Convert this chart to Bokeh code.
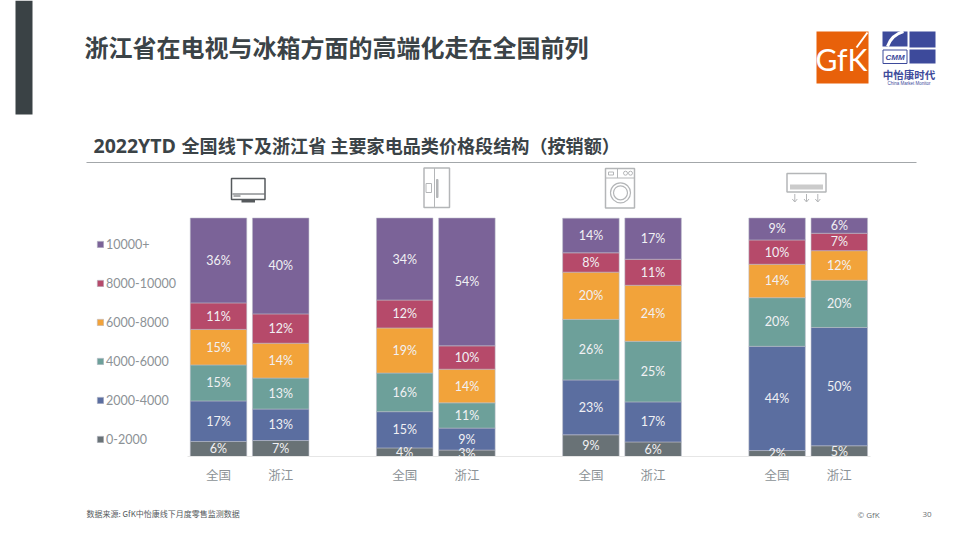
from bokeh.plotting import figure
from bokeh.models import (ColumnDataSource, Range1d, LinearAxis, FixedTicker, Legend, LegendItem)
from bokeh.core.properties import value
from bokeh.embed import file_html
from bokeh.resources import INLINE

# ---------- data ----------
groups = ["电视", "冰箱", "洗衣机", "空调"]
regions = ["全国", "浙江"]
tiers = ["0-2000", "2000-4000", "4000-6000", "6000-8000", "8000-10000", "10000+"]
# each list: TV 全国/浙江, fridge 全国/浙江, washer 全国/浙江, AC 全国/浙江
share_0_2000 = [6.3, 6.7, 3.6, 2.7, 9.1, 6.1, 2.5, 4.5]
share_2000_4000 = [17.0, 13.2, 15.2, 9.2, 23.0, 16.8, 43.7, 49.6]
share_4000_6000 = [15.1, 13.0, 16.2, 10.6, 25.4, 25.4, 20.4, 19.8]
share_6000_8000 = [14.9, 14.6, 18.9, 14.1, 19.8, 23.5, 14.0, 12.4]
share_8000_10000 = [11.1, 12.3, 11.7, 9.8, 8.1, 10.9, 10.2, 7.3]
share_10000_up = [35.6, 40.2, 34.4, 53.6, 14.5, 17.3, 9.2, 6.4]
label_0_2000 = [6, 7, 4, 3, 9, 6, 2, 5]
label_2000_4000 = [17, 13, 15, 9, 23, 17, 44, 50]
label_4000_6000 = [15, 13, 16, 11, 26, 25, 20, 20]
label_6000_8000 = [15, 14, 19, 14, 20, 24, 14, 12]
label_8000_10000 = [11, 12, 12, 10, 8, 11, 10, 7]
label_10000_up = [36, 40, 34, 54, 14, 17, 9, 6]

title_text = "浙江省在电视与冰箱方面的高端化走在全国前列"
subtitle_latin = "2022YTD"
subtitle_cjk = "全国线下及浙江省 主要家电品类价格段结构（按销额）"
source_text = "数据来源: GfK中怡康线下月度零售监测数据"

# ---------- styling / layout ----------
colors = ["#697276", "#5B6EA0", "#6DA09A", "#F2A33A", "#B64A6A", "#7B6398"]
shares = [share_0_2000, share_2000_4000, share_4000_6000, share_6000_8000, share_8000_10000, share_10000_up]
labels = [label_0_2000, label_2000_4000, label_4000_6000, label_6000_8000, label_8000_10000, label_10000_up]
W, H = 952, 532
BASE_PX, TOP_PX = 456.0, 217.5
PX_PER_PCT = (BASE_PX - TOP_PX) / 100
FIRST_X, PITCH, INNER, BAR_W = 218.0, 186.2, 62.2, 56.5
xs = [FIRST_X + g * PITCH + r * INNER for g in range(len(groups)) for r in range(len(regions))]

p = figure(width=W, height=H, output_backend="svg", toolbar_location=None,
           x_range=Range1d(0, W),
           y_range=Range1d((BASE_PX - H) / PX_PER_PCT, BASE_PX / PX_PER_PCT),
           min_border=0, outline_line_color=None, background_fill_color="white",
           x_axis_type=None, y_axis_type=None)
p.grid.visible = False
p.extra_y_ranges["px"] = Range1d(H, 0)

# ---------- stacked bars ----------
data = {"x": xs}
for t, s in zip(tiers, shares):
    data[t] = s
src = ColumnDataSource(data)
rs = p.vbar_stack(tiers, x="x", width=BAR_W, source=src, color=colors,
                  line_color="#b9bcc8", line_width=1, line_alpha=0.55)

# segment labels
lx, ly, lt = [], [], []
for i, x in enumerate(xs):
    b = 0
    for s, l in zip(shares, labels):
        lx.append(x); ly.append(b + s[i] / 2); lt.append(f"{l[i]}%")
        b += s[i]
p.text(lx, ly, text=lt, text_font=value("Lato"), text_font_size="12.5px", text_color="#f1f1f4",
       text_align="center", text_baseline="middle")
# labels of thin segments are cut off at the baseline, as in the reference
p.quad(left=[xs[0] - 40], right=[xs[-1] + 40], top=[0], bottom=[-5], fill_color="white", line_color=None)

# ---------- category axis ----------
ax = LinearAxis(ticker=FixedTicker(ticks=xs),
                major_label_overrides={x: regions[i % 2] for i, x in enumerate(xs)},
                fixed_location=0, bounds=(187, 870))
ax.axis_line_color = "#e6e6e6"
ax.axis_line_width = 1
ax.major_tick_line_color = None
ax.minor_tick_line_color = None
ax.major_label_standoff = 2
ax.major_label_text_font = "Noto Sans CJK SC"
ax.major_label_text_font_size = "12.5px"
ax.major_label_text_color = "#8c9296"
p.add_layout(ax, "below")

# ---------- legend ----------
items = [LegendItem(label=t, renderers=[r]) for t, r in zip(tiers, rs)][::-1]
leg = Legend(items=items, location=(96, 85), orientation="vertical", padding=0, margin=0,
             spacing=23, label_height=16, glyph_width=8, glyph_height=8, label_standoff=2,
             background_fill_alpha=0, border_line_color=None,
             label_text_font="Lato", label_text_font_size="12.5px", label_text_color="#8c9296")
p.add_layout(leg, "center")

# ---------- helpers in page pixels ----------
R = "px"
def box(x0, x1, y0, y1, fill=None, line=None, lw=1):
    p.quad(left=[x0], right=[x1], top=[y0], bottom=[y1], y_range_name=R,
           fill_color=fill, line_color=line, line_width=lw, fill_alpha=1 if fill else 0)
def seg(x, y, color, lw=1):
    p.line(x, y, y_range_name=R, line_color=color, line_width=lw)
def txt(x, y, s, font, size, color, style="normal", align="left"):
    p.text([x], [y], text=[s], y_range_name=R, text_font=value(font), text_font_size=size,
           text_color=color, text_font_style=style, text_align=align, text_baseline="middle")

# page furniture
box(15, 32, 0, 114, fill="#3A4245")
txt(84, 46, title_text, "Noto Sans CJK SC", "24px", "#3B4347", "bold")
txt(93, 145, subtitle_latin, "Open Sans", "19.5px", "#3B4347", "bold")
txt(181, 144, subtitle_cjk, "Noto Sans CJK SC", "18.1px", "#3B4347", "bold")
seg([86, 916], [162, 162], "#A3A7AA", 1)
txt(86, 513, source_text, "Noto Sans CJK SC", "8px", "#555B5E")
txt(857, 514, "© GfK", "Open Sans", "8px", "#6A7074")
txt(922, 514, "30", "Open Sans", "8px", "#6A7074")

# GfK logo
box(816, 868, 31, 83, fill="#E8610A")
txt(841, 58, "GfK", "Lato", "30px", "#FFFFFF", align="center")
seg([867, 856], [32, 47], "#FFFFFF", 2)
# CMM logo
NAVY = "#3D4A9B"
box(882, 907, 31, 46, fill=NAVY)
box(909, 935, 31, 47, fill=NAVY)
box(909, 935, 49, 63, fill=NAVY)
box(882.5, 906.5, 49.5, 63, line=NAVY)
p.bezier([887], [46], [903], [31], [890], [37], [896], [33], y_range_name=R, line_color="#FFFFFF", line_width=3)
txt(894.5, 57, "CMM", "Liberation Sans", "8px", NAVY, "bold italic", "center")
txt(908.5, 74, "中怡康时代", "Noto Sans CJK SC", "10.5px", NAVY, "bold", "center")
txt(908.5, 83, "China Market Monitor", "Liberation Sans", "4.5px", NAVY, "normal", "center")

# TV icon
DK, LG = "#55595C", "#B4B6B8"
box(231, 264.5, 178, 199, line=DK, lw=1.5)
seg([232, 264], [193.5, 193.5], DK, 1)
seg([233, 240], [195.5, 195.5], DK, 1)
box(241, 254.5, 199.5, 202, fill=DK)
# fridge icon
box(423.5, 449, 167.5, 207, line=LG, lw=1.5)
seg([434, 434], [167.5, 207], LG, 1)
box(425.5, 431, 183, 192, line=LG)
box(436, 437.5, 179, 197, fill=LG, line=LG)
# washer icon
box(605, 634, 168, 207.5, line=LG, lw=1.5)
seg([605, 634], [177.5, 177.5], LG, 1)
seg([617, 617], [168, 177.5], LG, 1)
box(608, 613, 171.5, 174.5, line=LG)
p.scatter([625, 630], [172.7, 172.7], y_range_name=R, size=4, fill_color=None, line_color=LG)
p.scatter([620, 620], [192.3, 192.3], y_range_name=R, size=[20, 14], fill_color=None, line_color=LG, line_width=1.2)
# air-conditioner icon
box(786.5, 825.5, 173, 191.5, line=LG, lw=1.5)
box(789.5, 822.5, 184, 189, fill="#CBCBCB")
for ax_x in (794.3, 806, 817.3):
    seg([ax_x, ax_x], [193.5, 201], LG, 1)
    seg([ax_x - 2.5, ax_x, ax_x + 2.5], [198.5, 201.5, 198.5], LG, 1)

open("out.html", "w").write(file_html(p, INLINE))
